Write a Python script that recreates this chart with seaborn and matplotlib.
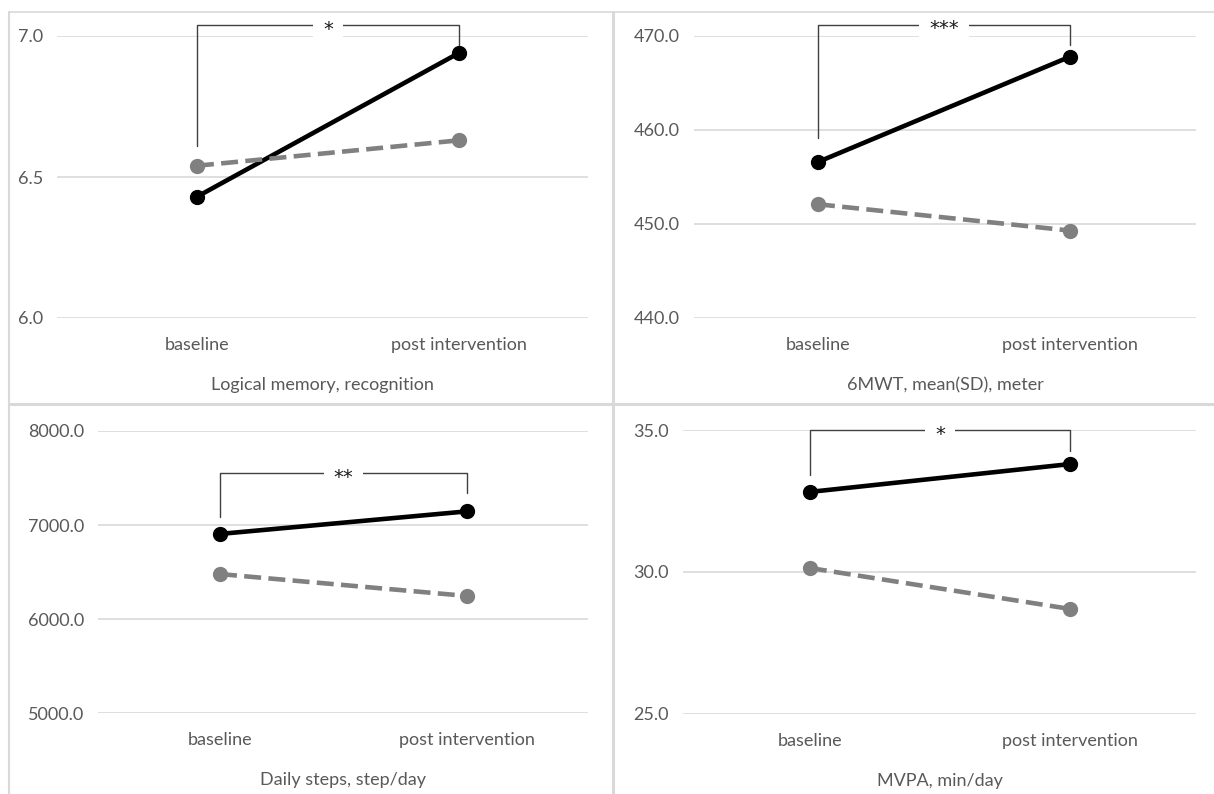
import pandas as pd
import matplotlib.pyplot as plt
import seaborn as sns
from matplotlib.lines import Line2D

# --- data ---
times = ['baseline', 'post intervention']
groups = ['intervention', 'control']

memory_int = [6.43, 6.94]
memory_ctl = [6.54, 6.63]
mwt_int = [456.6, 467.8]
mwt_ctl = [452.1, 449.3]
steps_int = [6905, 7145]
steps_ctl = [6478, 6245]
mvpa_int = [32.82, 33.80]
mvpa_ctl = [30.14, 28.70]

titles = ['Logical memory, recognition', '6MWT, mean(SD), meter',
          'Daily steps, step/day', 'MVPA, min/day']
yticks = [[6.0, 6.5, 7.0], [440, 450, 460, 470],
          [5000, 6000, 7000, 8000], [25, 30, 35]]
signif = ['*', '***', '**', '*']

W, H = 1214, 794

# pixel layout: (left, top, right, bottom) of plot area, x limits
layout = [
    ((57, 36, 588, 318), (-0.534, 1.492)),
    ((694, 36, 1196, 318), (-0.492, 1.50)),
    ((98, 431, 588, 713), (-0.494, 1.49)),
    ((683, 430, 1196, 714), (-0.488, 1.485)),
]
# bracket: top, left foot, right foot (data units)
brackets = [(7.039, 6.61, 6.968), (471.2, 459.1, 469.0),
            (7553, 7085, 7340), (35.0, 33.42, 34.26)]

series = [(memory_int, memory_ctl), (mwt_int, mwt_ctl),
          (steps_int, steps_ctl), (mvpa_int, mvpa_ctl)]

sns.set_style('white')
plt.rcParams['font.family'] = ['Lato', 'DejaVu Sans']
txt = '#595959'
grid = '#d9d9d9'

fig = plt.figure(figsize=(W / 100, H / 100), dpi=100)

for i in range(4):
    (l, t, r, b), xl = layout[i]
    ax = fig.add_axes([l / W, 1 - b / H, (r - l) / W, (b - t) / H])
    ivals, cvals = series[i]
    df = pd.DataFrame({
        'time': times * 2,
        'value': list(ivals) + list(cvals),
        'group': [groups[0]] * 2 + [groups[1]] * 2,
    })
    sns.pointplot(data=df, x='time', y='value', hue='group', order=times,
                  hue_order=groups, palette=['black', '#808080'],
                  markers=['o', 'o'], linestyles=['-', '--'],
                  errorbar=None, markersize=8.5, linewidth=3.3,
                  legend=False, ax=ax)
    ax.set_xlim(*xl)
    ticks = yticks[i]
    ax.set_ylim(ticks[0], ticks[-1])
    ax.set_yticks(ticks)
    ax.set_yticklabels([f'{v:.1f}' for v in ticks])
    ax.yaxis.grid(True, color=grid, linewidth=1.2, zorder=0)
    ax.set_axisbelow(True)
    for s in ax.spines.values():
        s.set_visible(False)
    ax.tick_params(axis='both', length=0, labelsize=13, labelcolor=txt)
    ax.tick_params(axis='y', pad=10)
    ax.tick_params(axis='x', pad=14)
    ax.set_ylabel('')
    ax.set_xlabel(titles[i], fontsize=13, color=txt, labelpad=17)

    top, lf, rf = brackets[i]
    ax.plot([0, 0, 1, 1], [lf, top, top, rf], color='#404040',
            linewidth=1, clip_on=False, zorder=3)
    ax.annotate(signif[i], (0.5, top), xytext=(0, -3),
                textcoords='offset points', ha='center', va='center',
                fontsize=14, family='DejaVu Sans', color='#1a1a1a',
                zorder=4, annotation_clip=False,
                bbox=dict(facecolor='white', edgecolor='none', pad=7))

# panel frames
def fline(x0, y0, x1, y1, lw):
    fig.add_artist(Line2D([x0 / W, x1 / W], [1 - y0 / H, 1 - y1 / H],
                          color=grid, linewidth=lw, transform=fig.transFigure))

fline(9, 12, W, 12, 1.2)
fline(9, 12, 9, H, 1.5)
fline(613, 12, 613, H, 2.2)
fline(9, 404, W, 404, 2.2)

fig.savefig('out.png', dpi=100, facecolor='white')
